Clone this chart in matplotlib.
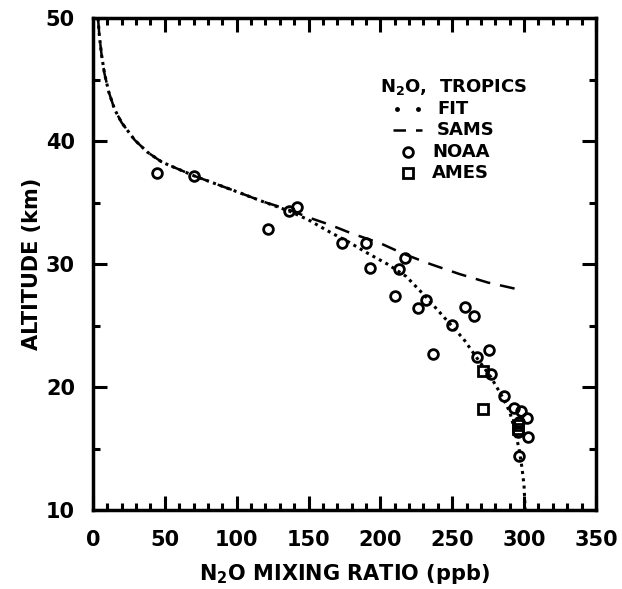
import matplotlib
matplotlib.use("Agg")
import matplotlib.pyplot as plt
from matplotlib.ticker import MultipleLocator

# Fitted N2O profile (ppb, km)
fit_ppb = [3.5, 4.5, 6, 8, 11, 15, 20, 29, 38, 48, 70, 100, 118, 137, 150,
           165, 178, 191, 205, 218, 232, 248, 258, 267, 277, 285, 290, 293.6,
           296.5, 298.5, 300, 300.6, 301]
fit_alt = [50, 48.5, 47, 45.5, 44, 42.6, 41.5, 40.1, 39.1, 38.3, 37.2, 35.9,
           35.1, 34.3, 33.6, 32.6, 31.8, 30.9, 30.0, 29.0, 27.3, 25.2, 23.9,
           22.4, 20.8, 19.2, 18.0, 16.5, 15.0, 13.5, 12.0, 10.5, 9.5]

# SAMS climatology
sams_ppb = [3.5, 4.5, 6, 8, 11, 15, 20, 29, 38, 48, 70, 100, 118, 137, 150,
            165, 180, 200, 217, 235, 255, 275, 294]
sams_alt = [50, 48.5, 47, 45.5, 44, 42.6, 41.5, 40.1, 39.1, 38.3, 37.2, 35.9,
            35.1, 34.4, 33.8, 33.2, 32.5, 31.7, 30.8, 30.0, 29.2, 28.5, 28.0]

# NOAA in situ samples
noaa_ppb = [44.3, 70.3, 121.6, 136.4, 141.7, 173, 190, 192.8, 213, 217,
            210, 226, 232, 259, 265, 249.6, 236.8, 267, 275.6, 276.7, 286,
            293.2, 297.8, 301.8, 296.4, 296, 302.7, 296.7]
noaa_alt = [37.42, 37.18, 32.9, 34.33, 34.66, 31.76, 31.73, 29.7, 29.6, 30.5,
            27.4, 26.4, 27.1, 26.5, 25.8, 25.04, 22.68, 22.46, 23.0, 21.06,
            19.3, 18.32, 18.05, 17.5, 17.2, 16.37, 15.93, 14.42]

# AMES samples
ames_ppb = [271.1, 271.6, 295.5, 295.5]
ames_alt = [21.3, 18.2, 16.9, 16.6]

FONT = dict(family="DejaVu Sans", weight="bold")

fig = plt.figure(figsize=(6.22, 5.89), dpi=100)
ax = fig.add_axes([0.1495, 0.134, 0.8085, 0.835])

ax.plot(fit_ppb, fit_alt, color="black", linestyle=(0, (1, 1.4)), linewidth=2.2)
ax.plot(sams_ppb, sams_alt, color="black", linestyle=(0, (6, 4)), linewidth=1.8)
ax.plot(noaa_ppb, noaa_alt, linestyle="none", marker="o", markersize=7,
        markerfacecolor="none", markeredgecolor="black", markeredgewidth=2)
ax.plot(ames_ppb, ames_alt, linestyle="none", marker="s", markersize=7,
        markerfacecolor="none", markeredgecolor="black", markeredgewidth=2)

ax.set_xlim(0, 350)
ax.set_ylim(10, 50)
ax.xaxis.set_major_locator(MultipleLocator(50))
ax.xaxis.set_minor_locator(MultipleLocator(10))
ax.yaxis.set_major_locator(MultipleLocator(10))
ax.yaxis.set_minor_locator(MultipleLocator(5))
ax.tick_params(which="both", direction="in", top=True, right=True,
               width=2.2, colors="black")
ax.tick_params(which="major", length=10, labelsize=15)
ax.tick_params(which="minor", length=5)
ax.tick_params(axis="x", which="major", pad=14)
ax.tick_params(axis="y", which="major", pad=13)
for lab in ax.get_xticklabels() + ax.get_yticklabels():
    lab.set_fontweight("bold")
for sp in ax.spines.values():
    sp.set_linewidth(2.5)

ax.set_xlabel("N$_\\mathbf{2}$O MIXING RATIO (ppb)", fontsize=15, labelpad=9, **FONT)
ax.set_ylabel("ALTITUDE (km)", fontsize=15, labelpad=3, **FONT)

# legend block
tr = ax.transAxes
def ax_x(px):
    return (px - 93) / 503
def ax_y(py):
    return (510 - py) / 492

ax.text(ax_x(380), ax_y(87), "N$_\\mathbf{2}$O,  TROPICS", transform=tr,
        fontsize=13, va="center", ha="left", **FONT)
ax.plot([ax_x(397), ax_x(418)], [ax_y(109)] * 2, transform=tr, color="black",
        linestyle="none", marker="o", markersize=2.5)
ax.text(ax_x(437), ax_y(109), "FIT", transform=tr, fontsize=13, va="center", **FONT)
ax.plot([ax_x(393), ax_x(422)], [ax_y(130)] * 2, transform=tr, color="black",
        linestyle=(0, (5, 4)), linewidth=1.8)
ax.text(ax_x(437), ax_y(130), "SAMS", transform=tr, fontsize=13, va="center", **FONT)
ax.plot([ax_x(408)], [ax_y(152)], transform=tr, marker="o", markersize=7,
        markerfacecolor="none", markeredgecolor="black", markeredgewidth=2)
ax.text(ax_x(432), ax_y(152), "NOAA", transform=tr, fontsize=13, va="center", **FONT)
ax.plot([ax_x(408)], [ax_y(173)], transform=tr, marker="s", markersize=7,
        markerfacecolor="none", markeredgecolor="black", markeredgewidth=2)
ax.text(ax_x(432), ax_y(173), "AMES", transform=tr, fontsize=13, va="center", **FONT)

fig.savefig("out.png", dpi=100)
